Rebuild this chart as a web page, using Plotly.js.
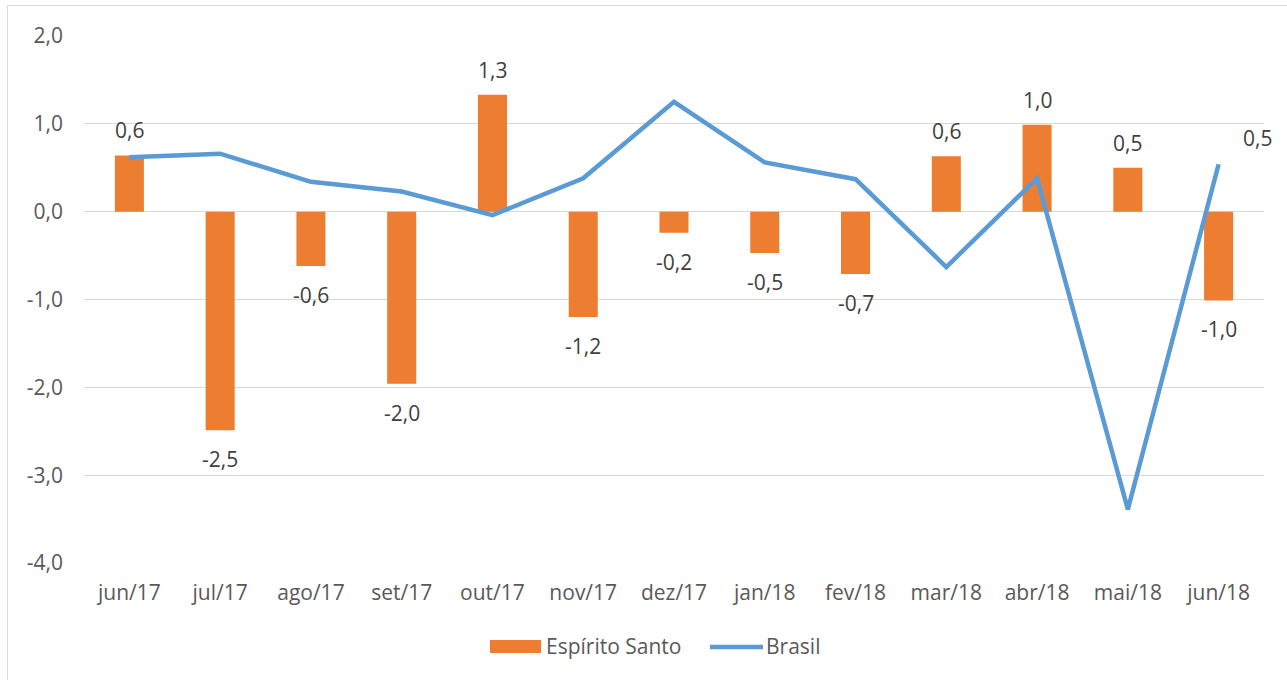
<!DOCTYPE html>
<html>
<head>
<meta charset="utf-8">
<script src="https://cdn.plot.ly/plotly-3.0.1.min.js"></script>
<style>
  html, body { margin: 0; padding: 0; background: #ffffff; overflow: hidden; }
  #chart { position: absolute; left: 0; top: 0; width: 1287px; height: 680px; }
  #frame { position: absolute; left: 7px; top: 5px; width: 1400px; height: 800px;
           border: 1px solid #d9d9d9; pointer-events: none; }
</style>
</head>
<body>
<div id="chart"></div>
<div id="frame"></div>
<script>
const categories = ["jun/17","jul/17","ago/17","set/17","out/17","nov/17","dez/17","jan/18","fev/18","mar/18","abr/18","mai/18","jun/18"];
const espiritoSanto = [0.64, -2.49, -0.62, -1.96, 1.33, -1.20, -0.24, -0.47, -0.71, 0.63, 0.99, 0.50, -1.01];
const brasil = [0.62, 0.66, 0.34, 0.23, -0.04, 0.38, 1.25, 0.56, 0.37, -0.63, 0.38, -3.39, 0.54];
const yTicks = [2, 1, 0, -1, -2, -3, -4];
const seriesNames = ["Espírito Santo", "Brasil"];

const fmt = v => v.toFixed(1).replace('.', ',');
const fontFam = '"Open Sans", "Liberation Sans", sans-serif';
const FS = 21;

const traces = [
  {
    type: 'bar', name: seriesNames[0], x: categories, y: espiritoSanto,
    marker: { color: '#ed7d31' }, width: 0.32, hoverinfo: 'x+y'
  },
  {
    type: 'scatter', mode: 'lines', name: seriesNames[1], x: categories, y: brasil,
    line: { color: '#5b9bd5', width: 4.5 }, hoverinfo: 'x+y'
  }
];

const annotations = categories.map((c, i) => {
  const v = espiritoSanto[i];
  return {
    x: c, y: v, xref: 'x', yref: 'y', text: fmt(v), showarrow: false,
    yanchor: 'middle', yshift: v >= 0 ? 25 : -29,
    font: { family: fontFam, size: FS, color: '#404040' }
  };
});
const last = brasil.length - 1;
annotations.push({
  x: categories[last], y: brasil[last], xref: 'x', yref: 'y', text: fmt(brasil[last]),
  showarrow: false, xanchor: 'left', yanchor: 'middle', xshift: 22, yshift: 26,
  font: { family: fontFam, size: FS, color: '#404040' }
});

// custom legend (paper coordinates of the plot area: x 84..1264, y 563..36)
const px = p => (p - 84) / 1180;
const py = p => (563 - p) / 527;
annotations.push({
  x: px(544), y: py(646), xref: 'paper', yref: 'paper', text: seriesNames[0],
  showarrow: false, xanchor: 'left', yanchor: 'middle',
  font: { family: fontFam, size: FS, color: '#595959' }
});
annotations.push({
  x: px(764), y: py(646), xref: 'paper', yref: 'paper', text: seriesNames[1],
  showarrow: false, xanchor: 'left', yanchor: 'middle',
  font: { family: fontFam, size: FS, color: '#595959' }
});
const shapes = [
  { type: 'rect', xref: 'paper', yref: 'paper', x0: px(490), x1: px(541), y0: py(653), y1: py(640),
    fillcolor: '#ed7d31', line: { width: 0 } },
  { type: 'line', xref: 'paper', yref: 'paper', x0: px(710), x1: px(763), y0: py(647), y1: py(647),
    line: { color: '#5b9bd5', width: 4.5 } }
];

const layout = {
  width: 1287, height: 680,
  margin: { l: 84, r: 23, t: 36, b: 117 },
  paper_bgcolor: 'rgba(0,0,0,0)', plot_bgcolor: 'rgba(0,0,0,0)',
  font: { family: fontFam, size: FS, color: '#595959' },
  showlegend: false,
  xaxis: {
    type: 'category', range: [-0.5, categories.length - 0.5], autorange: false,
    showgrid: false, zeroline: false, showline: false,
    ticks: '', ticklabelstandoff: 15, tickfont: { family: fontFam, size: FS, color: '#595959' }
  },
  yaxis: {
    range: [-4, 2], autorange: false, tickvals: yTicks, ticktext: yTicks.map(fmt),
    showgrid: true, gridcolor: '#d9d9d9', gridwidth: 1,
    zeroline: true, zerolinecolor: '#d9d9d9', zerolinewidth: 1,
    showline: false, ticks: '', ticklabelstandoff: 20,
    tickfont: { family: fontFam, size: FS, color: '#595959' }
  },
  annotations: annotations,
  shapes: shapes
};

Plotly.newPlot('chart', traces, layout, { displayModeBar: false, staticPlot: true });
</script>
</body>
</html>
